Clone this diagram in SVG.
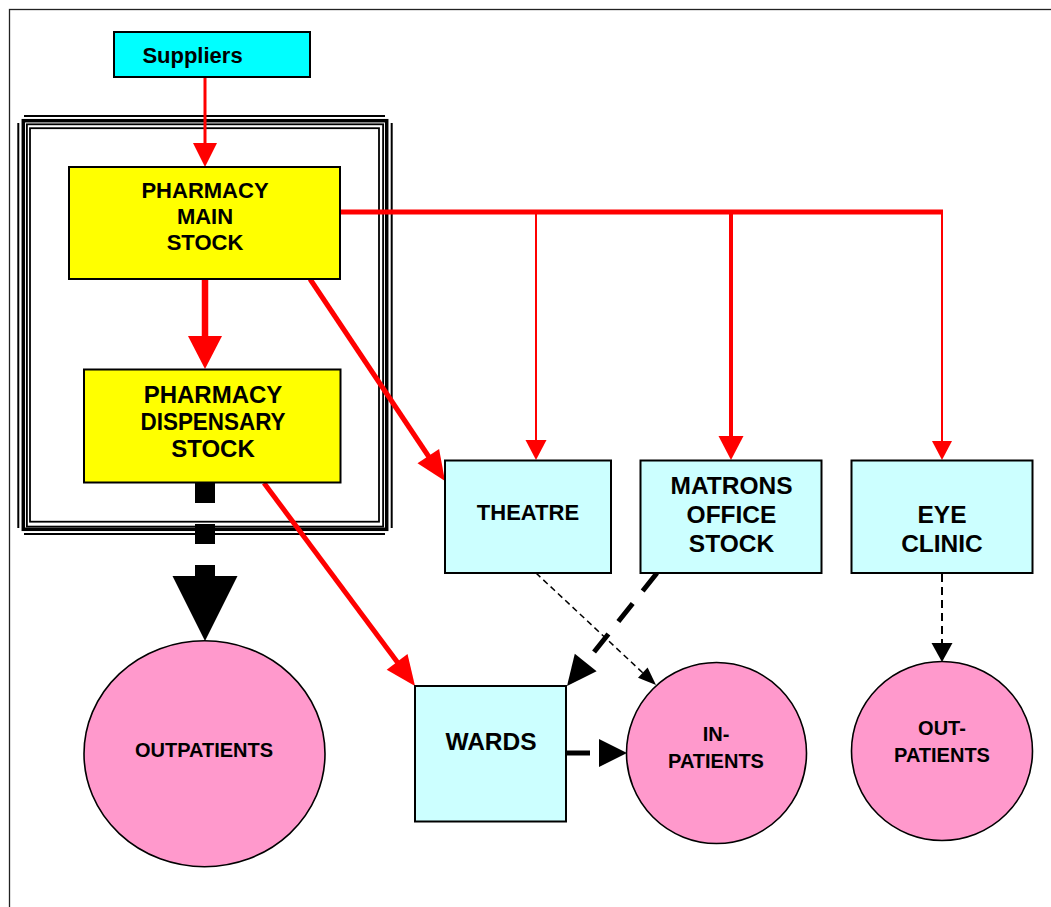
<svg xmlns="http://www.w3.org/2000/svg" width="1051" height="907" viewBox="0 0 1051 907">
<style>
  .t { font-family: "Liberation Sans", Arial, sans-serif; font-weight: bold; fill: #000; text-anchor: middle; }
  .box { stroke: #000; stroke-width: 2; }
  .cyan { fill: #CCFFFF; }
  .yellow { fill: #FFFF00; }
  .pink { fill: #FF99CC; stroke: #000; stroke-width: 1.6; }
  .red { stroke: #FF0000; fill: none; }
  .redhead { fill: #FF0000; }
  .blk { stroke: #000; fill: none; }
  .blkhead { fill: #000; }
  .frame { fill: none; stroke: #000; }
</style>
<rect x="0" y="0" width="1051" height="907" fill="#FFFFFF"/>
<rect x="9.5" y="9.5" width="1060" height="920" fill="none" stroke="#222" stroke-width="1.3"/>

<g id="frame">
  <line class="frame" x1="24" y1="116" x2="385" y2="116" stroke-width="2"/>
  <line class="frame" x1="24" y1="534" x2="385" y2="534" stroke-width="2"/>
  <line class="frame" x1="18.3" y1="123" x2="18.3" y2="528" stroke-width="2"/>
  <line class="frame" x1="391.7" y1="123" x2="391.7" y2="528" stroke-width="2"/>
  <rect class="frame" x="23.3" y="120.7" width="363.4" height="408.6" stroke-width="3.5"/>
  <rect class="frame" x="26.9" y="124.3" width="356.2" height="402.3" stroke-width="1.8"/>
  <rect class="frame" x="30" y="128.2" width="349" height="393.5" stroke-width="1.8"/>
</g>

<g id="connectors">
  <!-- Suppliers -> Main stock -->
  <line class="red" x1="205" y1="77" x2="205" y2="144" stroke-width="3"/>
  <polygon class="redhead" points="193,143 217,143 205,167"/>
  <!-- Main -> Dispensary -->
  <line class="red" x1="205" y1="279" x2="205" y2="337" stroke-width="6.5"/>
  <polygon class="redhead" points="188,336 222,336 205,369"/>
  <!-- Trunk -->
  <line class="red" x1="340" y1="212" x2="943" y2="212" stroke-width="5"/>
  <line class="red" x1="536" y1="212" x2="536" y2="441" stroke-width="2"/>
  <polygon class="redhead" points="525.5,440 546.5,440 536,460"/>
  <line class="red" x1="731" y1="212" x2="731" y2="437" stroke-width="4"/>
  <polygon class="redhead" points="718.5,436 743.5,436 731,460"/>
  <line class="red" x1="942" y1="212" x2="942" y2="442" stroke-width="2"/>
  <polygon class="redhead" points="932,441 952,441 942,460"/>
  <!-- Main -> Theatre -->
  <line class="red" x1="310" y1="279" x2="429" y2="457" stroke-width="5"/>
  <polygon class="redhead" points="417.5,463.3 439.1,448.9 445,481"/>
  <!-- Dispensary -> Wards -->
  <line class="red" x1="264" y1="483" x2="398" y2="663" stroke-width="5"/>
  <polygon class="redhead" points="386.7,669.7 407.5,654.1 415,686"/>
  <!-- Dispensary -> Outpatients -->
  <line class="blk" x1="205" y1="483" x2="205" y2="577" stroke-width="20" stroke-dasharray="20 21"/>
  <polygon class="blkhead" points="172.5,576 237.5,576 205,641"/>
  <!-- Theatre -> In-patients -->
  <line class="blk" x1="536" y1="573" x2="643" y2="673" stroke-width="1.5" stroke-dasharray="6 4"/>
  <polygon class="blkhead" points="638,677.8 647.6,667.6 656,685"/>
  <!-- Matrons -> Wards -->
  <line class="blk" x1="657" y1="573" x2="585.7" y2="662.5" stroke-width="5" stroke-dasharray="23 16"/>
  <polygon class="blkhead" points="574.8,653.8 596.6,671.2 567,686"/>
  <!-- Wards -> In-patients -->
  <line class="blk" x1="566" y1="753" x2="590" y2="753" stroke-width="5"/>
  <polygon class="blkhead" points="599,739 599,767 627,753"/>
  <!-- Eye clinic -> Out-patients -->
  <line class="blk" x1="942" y1="574" x2="942" y2="643" stroke-width="2" stroke-dasharray="8 5"/>
  <polygon class="blkhead" points="931.5,643 952.5,643 942,662"/>
</g>

<g id="suppliers">
  <rect class="box" x="114" y="32" width="196" height="45" fill="#00FFFF"/>
  <text class="t" x="192.5" y="63" font-size="22">Suppliers</text>
</g>

<g id="pharmacy-main-stock">
  <rect class="box yellow" x="69" y="167" width="271" height="112"/>
  <text class="t" x="205" y="198" font-size="22">PHARMACY</text>
  <text class="t" x="205" y="224" font-size="22">MAIN</text>
  <text class="t" x="205" y="250" font-size="22">STOCK</text>
</g>

<g id="pharmacy-dispensary-stock">
  <rect class="box yellow" x="84" y="369.5" width="256.5" height="113"/>
  <text class="t" x="213" y="403" font-size="24">PHARMACY</text>
  <text class="t" x="213" y="430" font-size="23" textLength="145" lengthAdjust="spacingAndGlyphs">DISPENSARY</text>
  <text class="t" x="213" y="457" font-size="24">STOCK</text>
</g>

<g id="theatre">
  <rect class="box cyan" x="445" y="460.5" width="166" height="112.5"/>
  <text class="t" x="528" y="520" font-size="22">THEATRE</text>
</g>

<g id="matrons-office-stock">
  <rect class="box cyan" x="640.5" y="460.5" width="181" height="112.5"/>
  <text class="t" x="731.5" y="494" font-size="24.5">MATRONS</text>
  <text class="t" x="731.5" y="523" font-size="24.5">OFFICE</text>
  <text class="t" x="731.5" y="552" font-size="24.5">STOCK</text>
</g>

<g id="eye-clinic">
  <rect class="box cyan" x="851.5" y="460.5" width="181" height="112.5"/>
  <text class="t" x="942" y="523" font-size="24.5">EYE</text>
  <text class="t" x="942" y="552" font-size="24.5">CLINIC</text>
</g>

<g id="wards">
  <rect class="box cyan" x="415" y="686" width="151" height="135.5"/>
  <text class="t" x="491" y="750" font-size="24.5">WARDS</text>
</g>

<g id="outpatients">
  <ellipse class="pink" cx="204.5" cy="753.7" rx="120.5" ry="113"/>
  <text class="t" x="204" y="757" font-size="20">OUTPATIENTS</text>
</g>

<g id="in-patients">
  <ellipse class="pink" cx="716.5" cy="753" rx="90" ry="90.5"/>
  <text class="t" x="716" y="741" font-size="20">IN-</text>
  <text class="t" x="716" y="768" font-size="20">PATIENTS</text>
</g>

<g id="out-patients">
  <ellipse class="pink" cx="942" cy="751" rx="90.5" ry="89.5"/>
  <text class="t" x="942" y="735" font-size="20">OUT-</text>
  <text class="t" x="942" y="762" font-size="20">PATIENTS</text>
</g>
</svg>
